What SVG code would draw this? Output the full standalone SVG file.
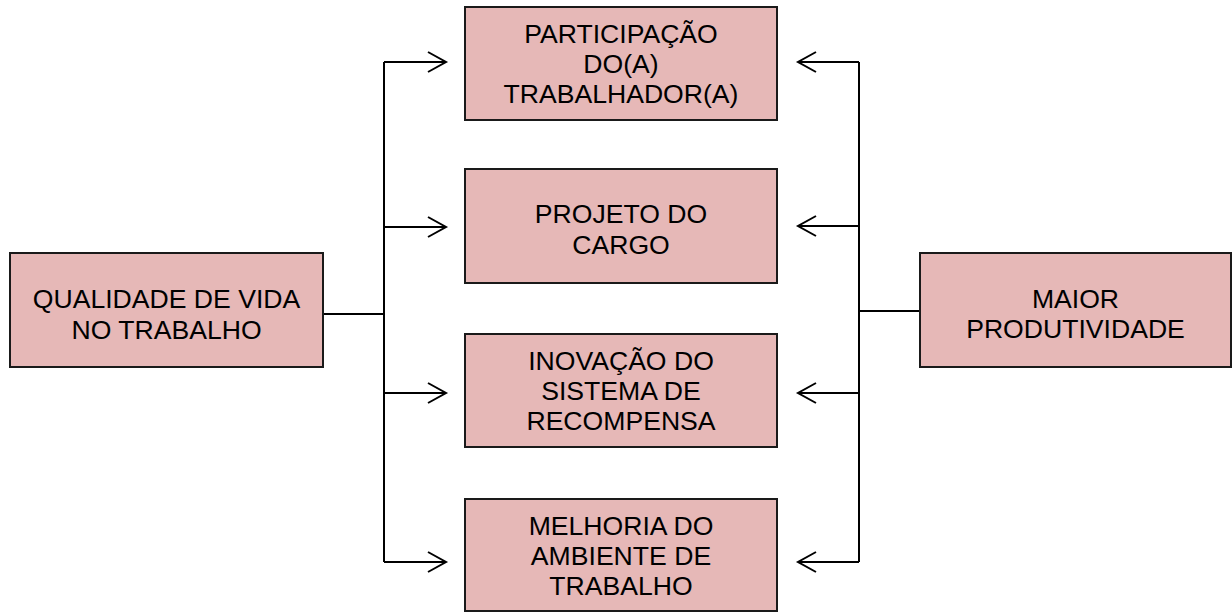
<svg xmlns="http://www.w3.org/2000/svg" width="1232" height="612" viewBox="0 0 1232 612">
<style>
.box{fill:#E6B8B7;stroke:#1a1a1a;stroke-width:2}
.t{font-family:"Liberation Sans",Arial,sans-serif;font-size:26.6px;fill:#000;text-anchor:middle}
.c{fill:none;stroke:#000;stroke-width:2}
</style>
<rect width="1232" height="612" fill="#fff"/>
<g id="connectors">
<path class="c" d="M323 314H384M384 62V562M384 62H446M384 227H446M384 393H446M384 562H446"/>
<path class="c" d="M428 52L446 62L428 72M428 217L446 227L428 237M428 383L446 393L428 403M428 552L446 562L428 572"/>
<path class="c" d="M920 311H859M859 62V562M859 62H798M859 226H798M859 393H798M859 562H798"/>
<path class="c" d="M816 52L798 62L816 72M816 216L798 226L816 236M816 383L798 393L816 403M816 552L798 562L816 572"/>
</g>
<g id="qvt"><rect class="box" x="10" y="253" width="313" height="114"/><text class="t" x="166.5" y="308">QUALIDADE DE VIDA</text><text class="t" x="166.5" y="339">NO TRABALHO</text></g>
<g id="participacao"><rect class="box" x="465" y="7" width="312" height="113"/><text class="t" x="621" y="43">PARTICIPAÇÃO</text><text class="t" x="621" y="73">DO(A)</text><text class="t" x="621" y="103">TRABALHADOR(A)</text></g>
<g id="projeto"><rect class="box" x="465" y="169" width="312" height="114"/><text class="t" x="621" y="223">PROJETO DO</text><text class="t" x="621" y="254">CARGO</text></g>
<g id="inovacao"><rect class="box" x="465" y="334" width="312" height="113"/><text class="t" x="621" y="370">INOVAÇÃO DO</text><text class="t" x="621" y="400">SISTEMA DE</text><text class="t" x="621" y="430">RECOMPENSA</text></g>
<g id="melhoria"><rect class="box" x="465" y="499" width="312" height="112"/><text class="t" x="621" y="535">MELHORIA DO</text><text class="t" x="621" y="565">AMBIENTE DE</text><text class="t" x="621" y="595">TRABALHO</text></g>
<g id="produtividade"><rect class="box" x="920" y="253" width="311" height="114"/><text class="t" x="1075.5" y="308">MAIOR</text><text class="t" x="1075.5" y="338">PRODUTIVIDADE</text></g>
</svg>
